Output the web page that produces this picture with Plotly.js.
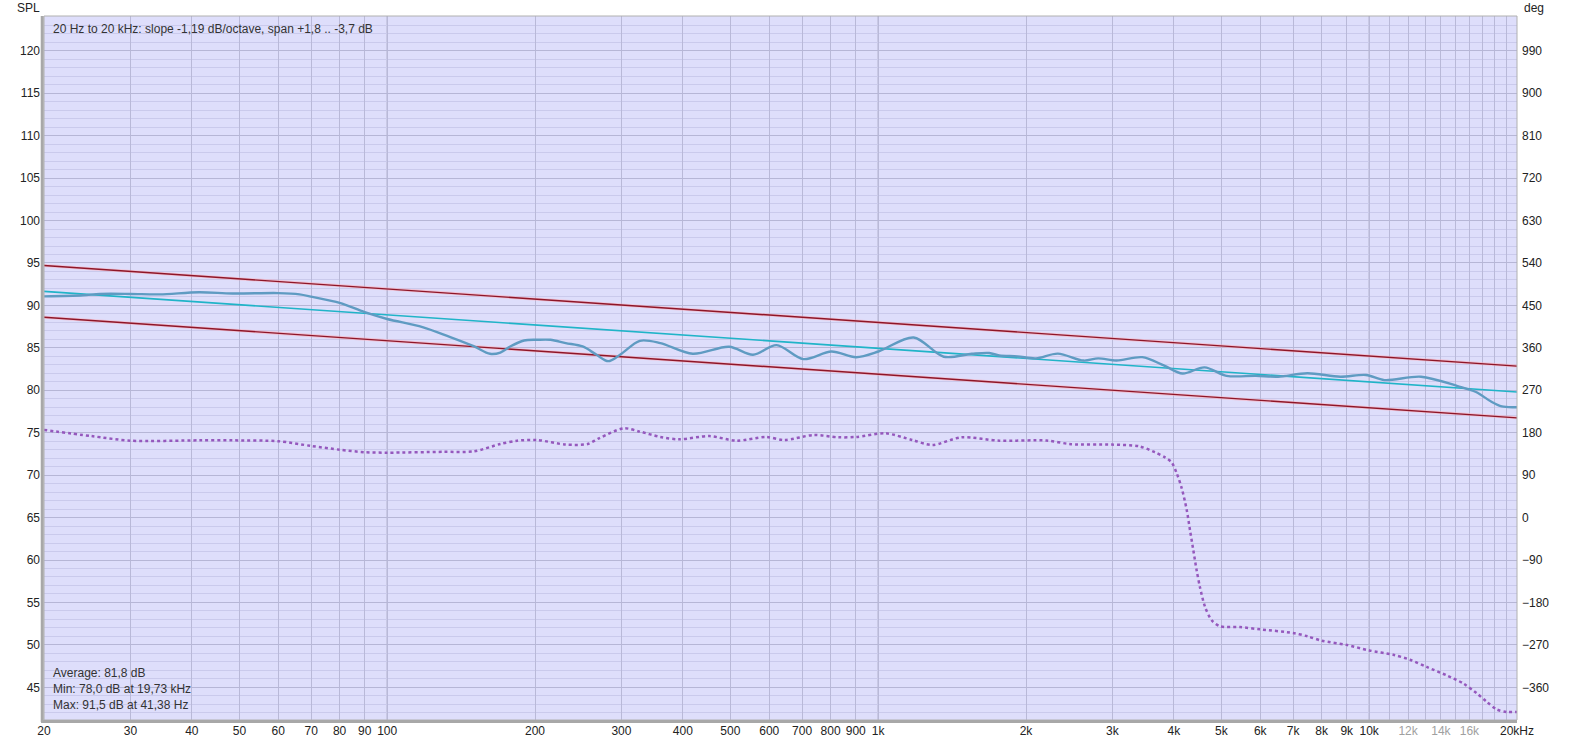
<!DOCTYPE html>
<html><head><meta charset="utf-8">
<script src="https://cdn.plot.ly/plotly-3.0.1.min.js"></script>
<style>html,body{margin:0;padding:0;background:#fff;}#chart{width:1574px;height:745px;}</style>
</head><body><div id="chart"></div>
<script>
// ---- data ----
const splFreq = [20,24,26,30,34.4,41.4,48.4,60,66.3,70.4,80,90,100,118,134,150,162,170,178,190,202,215,231,250,267,282,298,327,360,419,497,556,621,704,803,902,1001,1181,1360,1551,1683,1764,1922,2096,2322,2620,2806,3058,3450,3826,4168,4620,5124,5880,6522,7482,8732,9852,10740,12750,15140,16500,17680,18620,19730,20000];
const splDb   = [91.06,91.2,91.35,91.35,91.3,91.55,91.4,91.45,91.3,91.0,90.3,89.2,88.4,87.45,86.3,85.2,84.3,84.45,85.16,85.87,85.95,85.95,85.56,85.16,84.18,83.43,84.18,85.83,85.56,84.3,85.12,84.18,85.32,83.67,84.57,83.9,84.57,86.22,83.95,84.3,84.4,84.1,84.0,83.76,84.32,83.5,83.76,83.5,83.9,82.9,81.97,82.7,81.7,81.7,81.6,82.0,81.6,81.8,81.2,81.6,80.5,79.8,78.7,78.1,78.0,78.0];

const dotFreq = [20,25,30,41.5,48.4,60,70,80,90,100,130,150,170,184,202,231,256,270,303,327,360,393,453,514,591,644,739,829,902,1035,1173,1289,1476,1765,2200,2470,2990,3400,3660,3838,3960,4056,4152,4250,4316,4382,4452,4522,4630,4778,4968,5456,6000,7000,7500,8000,9000,10000,11196,12112,13098,14386,15550,16556,17352,18182,19056,20000];
const dotDb   = [75.33,74.6,74.06,74.1,74.1,74.0,73.44,73.0,72.7,72.65,72.75,72.8,73.67,74.06,74.14,73.6,73.67,74.34,75.52,75.13,74.5,74.22,74.6,74.06,74.5,74.14,74.73,74.46,74.5,74.93,74.14,73.55,74.46,74.06,74.08,73.65,73.6,73.4,72.7,72.1,71.5,70.2,68.45,65.9,63.5,61.2,58.8,56.8,54.5,52.9,52.2,52.1,51.83,51.4,51.0,50.5,50.0,49.35,48.84,48.25,47.4,46.4,45.45,44.3,43.3,42.4,42.1,42.1];

const lineFreq = [20,20000];
const fitDb   = [91.65,79.8];
const upperDb = [94.7,82.85];
const lowerDb = [88.6,76.75];

const xTickVals = [20,30,40,50,60,70,80,90,100,200,300,400,500,600,700,800,900,1000,2000,3000,4000,5000,6000,7000,8000,9000,10000,11000,12000,13000,14000,15000,16000,17000,18000,19000,20000];
const xTickText = ['20','30','40','50','60','70','80','90','100','200','300','400','500','600','700','800','900','1k','2k','3k','4k','5k','6k','7k','8k','9k','10k','','<span style="fill:#a0a0a0">12k</span>','','<span style="fill:#a0a0a0">14k</span>','','<span style="fill:#a0a0a0">16k</span>','','','','20kHz'];
const decadeLines = [100,1000,10000];

const yRange = [41.15,124.1];
const degPerDb = 18, degAt120 = 990;

const titleText = '20 Hz to 20 kHz: slope -1,19 dB/octave, span +1,8 .. -3,7 dB';
const statsText = ['Average: 81,8 dB','Min: 78,0 dB at 19,73 kHz','Max: 91,5 dB at 41,38 Hz'];

// ---- traces ----
const font = 'Liberation Sans, Arial, sans-serif';
const traces = [
  {x:lineFreq,y:upperDb,mode:'lines',line:{color:'rgba(255,170,180,0.55)',width:3},hoverinfo:'skip'},
  {x:lineFreq,y:lowerDb,mode:'lines',line:{color:'rgba(255,170,180,0.55)',width:3},hoverinfo:'skip'},
  {x:lineFreq,y:upperDb,mode:'lines',line:{color:'#8e1628',width:1.4}},
  {x:lineFreq,y:lowerDb,mode:'lines',line:{color:'#8e1628',width:1.4}},
  {x:lineFreq,y:fitDb,mode:'lines',line:{color:'#20b4c8',width:1.6}},
  {x:dotFreq,y:dotDb,mode:'lines',line:{color:'#9558bd',width:2.5,dash:'3px,3px',shape:'spline',smoothing:0.8}},
  {x:splFreq,y:splDb,mode:'lines',line:{color:'#5f9bc2',width:2.4,shape:'spline',smoothing:0.9}},
  {x:[20],y:[0],yaxis:'y2',mode:'markers',marker:{opacity:0},hoverinfo:'skip'}
];

const shapes = decadeLines.map(f=>({type:'line',xref:'x',yref:'paper',x0:f,x1:f,y0:0,y1:1,line:{color:'#9c9cb4',width:1},layer:'below'}));
shapes.push({type:'rect',xref:'paper',yref:'paper',x0:0,x1:1,y0:0,y1:1,line:{color:'#b0b0b0',width:1}});
shapes.push({type:'line',xref:'paper',yref:'paper',x0:-0.0012,x1:-0.0012,y0:-0.003,y1:1,line:{color:'#a8a8a8',width:3}});
shapes.push({type:'line',xref:'paper',yref:'paper',x0:-0.002,x1:1,y0:-0.002,y1:-0.002,line:{color:'#a8a8a8',width:3}});

const ann = [
  {text:'SPL',xref:'paper',yref:'paper',x:-0.0197,y:1.0114,xanchor:'left',yanchor:'middle',showarrow:false,font:{family:font,size:12,color:'#222'}},
  {text:'deg',xref:'paper',yref:'paper',x:1.0034,y:1.0114,xanchor:'left',yanchor:'middle',showarrow:false,font:{family:font,size:12,color:'#222'}},
  {text:titleText,xref:'paper',yref:'paper',x:0.0048,y:0.9815,xanchor:'left',yanchor:'middle',showarrow:false,font:{family:font,size:12,color:'#333'}},
  {text:statsText[0],xref:'paper',yref:'paper',x:0.0048,y:0.0668,xanchor:'left',yanchor:'middle',showarrow:false,font:{family:font,size:12,color:'#333'}},
  {text:statsText[1],xref:'paper',yref:'paper',x:0.0048,y:0.0440,xanchor:'left',yanchor:'middle',showarrow:false,font:{family:font,size:12,color:'#333'}},
  {text:statsText[2],xref:'paper',yref:'paper',x:0.0048,y:0.0213,xanchor:'left',yanchor:'middle',showarrow:false,font:{family:font,size:12,color:'#333'}}
];

const layout = {
  width:1574,height:745,
  margin:{l:44,r:57,t:16,b:25},
  paper_bgcolor:'#ffffff',plot_bgcolor:'#dedefb',
  showlegend:false,
  font:{family:font,size:12,color:'#222'},
  xaxis:{type:'log',range:[Math.log10(20),Math.log10(20000)],tickmode:'array',tickvals:xTickVals,ticktext:xTickText,
         showgrid:true,gridcolor:'#b9b9d8',gridwidth:1,zeroline:false,showline:false,ticks:'',ticklabelstandoff:2,
         tickfont:{family:font,size:12,color:'#222'}},
  yaxis:{range:yRange,tickmode:'linear',tick0:0,dtick:5,showgrid:true,gridcolor:'#b6b6d6',gridwidth:1,zeroline:false,ticks:'',
         minor:{dtick:1,tick0:0,showgrid:true,gridcolor:'#cacaec',gridwidth:1},
         tickfont:{family:font,size:12,color:'#222'},ticklabelstandoff:3},
  yaxis2:{overlaying:'y',side:'right',range:yRange.map(v=>(v-120)*degPerDb+degAt120),tickmode:'linear',tick0:0,dtick:90,
          showgrid:false,zeroline:false,ticks:'',tickfont:{family:font,size:12,color:'#222'},ticklabelstandoff:4},
  shapes:shapes,
  annotations:ann
};
Plotly.newPlot('chart',traces,layout,{staticPlot:true,displayModeBar:false});
</script></body></html>
